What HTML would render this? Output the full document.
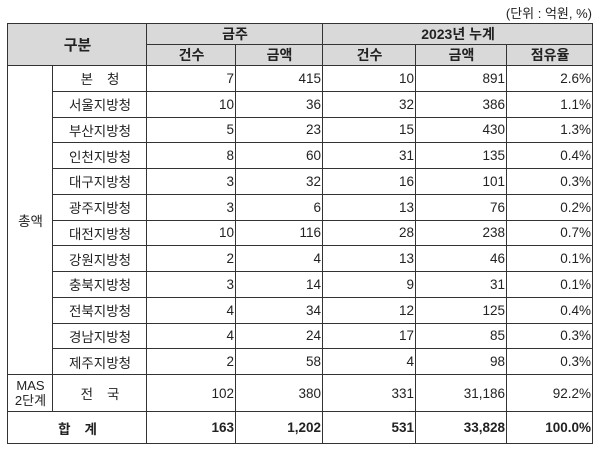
<!DOCTYPE html>
<html><head><meta charset="utf-8"><style>
body{margin:0;width:600px;height:453px;background:#fff;font-family:"Liberation Sans","Noto Sans CJK KR",sans-serif;color:#222;position:relative;overflow:hidden}
.unit{position:absolute;right:8px;top:3px;font-size:13px}
table{position:absolute;left:7px;top:23px;border-collapse:collapse;table-layout:fixed;width:585px;font-size:13.5px}
td{border:1px solid #333;padding:0 1px 0 2px;height:24.75px;text-align:right;white-space:nowrap}
.h td{background:#d9d9d9;text-align:center;height:19px;font-size:14px;font-weight:600}
.c{text-align:center}
.sp{letter-spacing:14px}
.b td{font-weight:bold;height:31px}
</style></head><body>
<div class="unit">(단위 : 억원, %)</div>
<table>
<colgroup><col style="width:45px"><col style="width:94px"><col style="width:89px"><col style="width:87px"><col style="width:93px"><col style="width:91px"><col style="width:86px"></colgroup>
<tr class="h"><td colspan="2" rowspan="2" style="font-size:15px">구분</td><td colspan="2">금주</td><td colspan="3">2023년 누계</td></tr>
<tr class="h"><td>건수</td><td>금액</td><td>건수</td><td>금액</td><td>점유율</td></tr>
<tr><td rowspan="12" class="c">총액</td><td class="c"><span class="sp">본</span>청</td><td>7</td><td>415</td><td>10</td><td>891</td><td>2.6%</td></tr>
<tr><td class="c">서울지방청</td><td>10</td><td>36</td><td>32</td><td>386</td><td>1.1%</td></tr>
<tr><td class="c">부산지방청</td><td>5</td><td>23</td><td>15</td><td>430</td><td>1.3%</td></tr>
<tr><td class="c">인천지방청</td><td>8</td><td>60</td><td>31</td><td>135</td><td>0.4%</td></tr>
<tr><td class="c">대구지방청</td><td>3</td><td>32</td><td>16</td><td>101</td><td>0.3%</td></tr>
<tr><td class="c">광주지방청</td><td>3</td><td>6</td><td>13</td><td>76</td><td>0.2%</td></tr>
<tr><td class="c">대전지방청</td><td>10</td><td>116</td><td>28</td><td>238</td><td>0.7%</td></tr>
<tr><td class="c">강원지방청</td><td>2</td><td>4</td><td>13</td><td>46</td><td>0.1%</td></tr>
<tr><td class="c">충북지방청</td><td>3</td><td>14</td><td>9</td><td>31</td><td>0.1%</td></tr>
<tr><td class="c">전북지방청</td><td>4</td><td>34</td><td>12</td><td>125</td><td>0.4%</td></tr>
<tr><td class="c">경남지방청</td><td>4</td><td>24</td><td>17</td><td>85</td><td>0.3%</td></tr>
<tr><td class="c">제주지방청</td><td>2</td><td>58</td><td>4</td><td>98</td><td>0.3%</td></tr>
<tr><td class="c" style="height:36px;line-height:15px;font-size:13px">MAS<br>2단계</td><td class="c"><span class="sp">전</span>국</td><td>102</td><td>380</td><td>331</td><td>31,186</td><td>92.2%</td></tr>
<tr class="b"><td colspan="2" class="c"><span class="sp">합</span>계</td><td>163</td><td>1,202</td><td>531</td><td>33,828</td><td>100.0%</td></tr>
</table>
</body></html>
